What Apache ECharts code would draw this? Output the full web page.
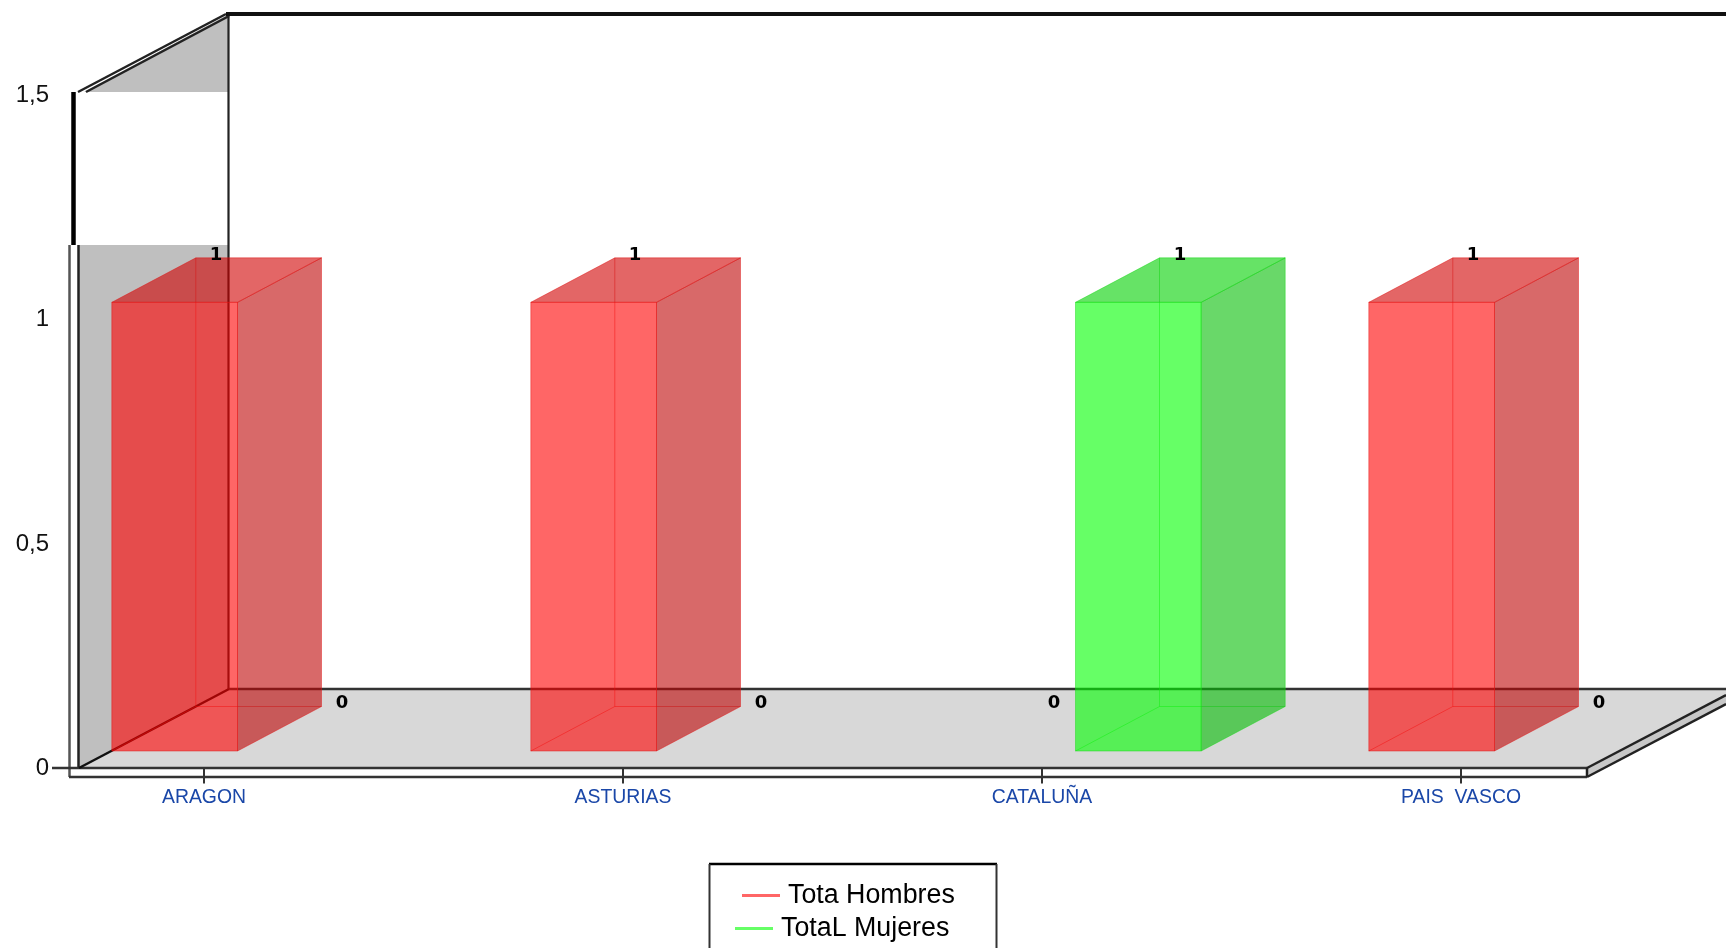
<!DOCTYPE html>
<html><head><meta charset="utf-8">
<style>html,body{margin:0;padding:0;background:#fff}#c{width:1726px;height:948px}</style>
<script src="https://cdn.jsdelivr.net/npm/echarts@6/dist/echarts.min.js"></script>
</head><body><div id="c"></div>
<script>
const categories = ['ARAGON','ASTURIAS','CATALUÑA','PAIS  VASCO'];
const totalHombres = [1,1,0,1];
const totalMujeres = [0,0,1,0];
const yTickLabels = {0:'0',0.5:'0,5',1:'1',1.5:'1,5'};
const seriesNames = ['Tota Hombres','TotaL Mujeres'];

const SANS = '"Liberation Sans",Arial,sans-serif';
const palette = [
  {line:'#ff6666',front:'rgba(255,0,0,.6)',side:'rgba(190,5,5,.6)',top:'rgba(208,0,0,.6)',edge:'rgba(225,20,20,.45)'},
  {line:'#66ff66',front:'rgba(0,255,0,.6)',side:'rgba(5,190,5,.6)',top:'rgba(0,208,0,.6)',edge:'rgba(20,215,20,.45)'}
];
const renderBar = (sIdx) => (params, api) => {
  const cat = api.value(0), val = api.value(1);
  const p0 = api.coord([cat,0]), p1 = api.coord([cat,val]);
  const w = api.size([1,0])[0]*0.3;
  const ox = 33.5, oy = 17.5, dx = 84, dy = 44.5;
  const x0 = p0[0] + (sIdx===0 ? -w : 0) + ox, x1 = x0 + w;
  const yb = p0[1]-oy, yt = p1[1]-oy;
  const c = palette[sIdx];
  const children = [];
  const st = (fill)=>({fill,stroke:c.edge,lineWidth:1});
  if (val > 0) {
    const ln = (a,b,cc,dd)=>({type:'line',shape:{x1:a,y1:b,x2:cc,y2:dd},style:{stroke:c.edge,lineWidth:1},silent:true});
    children.push(
      ln(x0+dx,yb-dy,x1+dx,yb-dy), ln(x0+dx,yt-dy,x0+dx,yb-dy), ln(x0,yb,x0+dx,yb-dy),
      {type:'polygon',shape:{points:[[x0,yt],[x1,yt],[x1+dx,yt-dy],[x0+dx,yt-dy]]},style:st(c.top)},
      {type:'polygon',shape:{points:[[x1,yt],[x1+dx,yt-dy],[x1+dx,yb-dy],[x1,yb]]},style:st(c.side)},
      {type:'rect',shape:{x:x0,y:yt,width:w,height:yb-yt},style:st(c.front)}
    );
  }
  children.push({type:'text',x:p1[0]+(sIdx===0?12:138),y:p1[1]-65,
    style:{text:String(val),font:'bold 18px "DejaVu Sans"',fill:'#000',align:'center',verticalAlign:'middle'}});
  return {type:'group',children};
};
const seg = (x1,y1,x2,y2,w,col) => ({type:'line',shape:{x1,y1,x2,y2},style:{stroke:col||'#222',lineWidth:w||2}});
const poly = (points,fill) => ({type:'polygon',shape:{points},style:{fill}});
const frame = [
  poly([[79,245],[229,245],[229,689],[79,768]],'#bfbfbf'),
  poly([[84,92],[229,14],[229,92]],'#bfbfbf'),
  poly([[79,768],[229,689],[1760,689],[1587,768]],'#d8d8d8'),
  poly([[1587,768],[1760,677],[1760,686],[1587,777]],'#c8c8c8'),
  seg(69.5,245,69.5,777,2.5,'#555'), seg(78.5,245,78.5,768,2.5),
  seg(69,777,1587,777,2.5,'#333'), seg(52,768,1587,768,2.5,'#333'),
  seg(1587,768,1587,777,2.5), seg(1587,768,1726,695,2.5), seg(1587,777,1726,704,2.5),
  seg(79,768,229,689,2.5,'#111'), seg(229,689,1726,689,2.5,'#333'),
  seg(228.5,14,228.5,689,2.2),
  seg(73.5,92,73.5,245,4.5,'#000'),
  seg(78,92,226,14,2.5), seg(86,92,229,16,2.5),
  seg(226,14,1726,14,4,'#111'),
  seg(709,864,997,864,2.5,'#000'), seg(709.5,864,709.5,948,2,'#333'), seg(996.5,864,996.5,948,2,'#333')
];
const chart = echarts.init(document.getElementById('c'));
const legendItem = (name,left,top) => ({data:[name],left,top,orient:'horizontal',padding:0,
  itemWidth:38,itemHeight:3,icon:'rect',itemStyle:{opacity:1},
  selectedMode:false,textStyle:{fontFamily:SANS,fontSize:26.8,color:'#000',padding:[0,0,0,3]}});
chart.setOption({
  animation:false,
  backgroundColor:'#fff',
  grid:{left:204,right:265,top:95.5,bottom:179.5,containLabel:false},
  graphic:{elements:frame.map(e=>Object.assign({z:-1,silent:true},e))},
  legend:[legendItem(seriesNames[0],742,882),legendItem(seriesNames[1],735,915)],
  xAxis:{type:'category',data:categories,boundaryGap:false,
    axisLine:{show:false},
    axisTick:{show:true,length:15,inside:false,lineStyle:{color:'#333',width:2}},
    axisLabel:{interval:0,margin:20,fontFamily:SANS,fontSize:19.4,color:'#1a47a8',showMinLabel:true,showMaxLabel:true},
    splitLine:{show:false}},
  yAxis:{type:'value',min:0,max:1.5,interval:0.5,offset:156,
    axisLine:{show:false},axisTick:{show:false},splitLine:{show:false},
    axisLabel:{margin:-1,fontFamily:SANS,fontSize:24,color:'#111',formatter:v=>yTickLabels[v]}},
  series:[totalHombres,totalMujeres].map((vals,i)=>({
    type:'custom',name:seriesNames[i],coordinateSystem:'cartesian2d',clip:false,
    itemStyle:{color:palette[i].line},
    encode:{x:0,y:1},
    data:vals.map((v,k)=>[k,v]),
    renderItem:renderBar(i)
  }))
});
</script></body></html>
